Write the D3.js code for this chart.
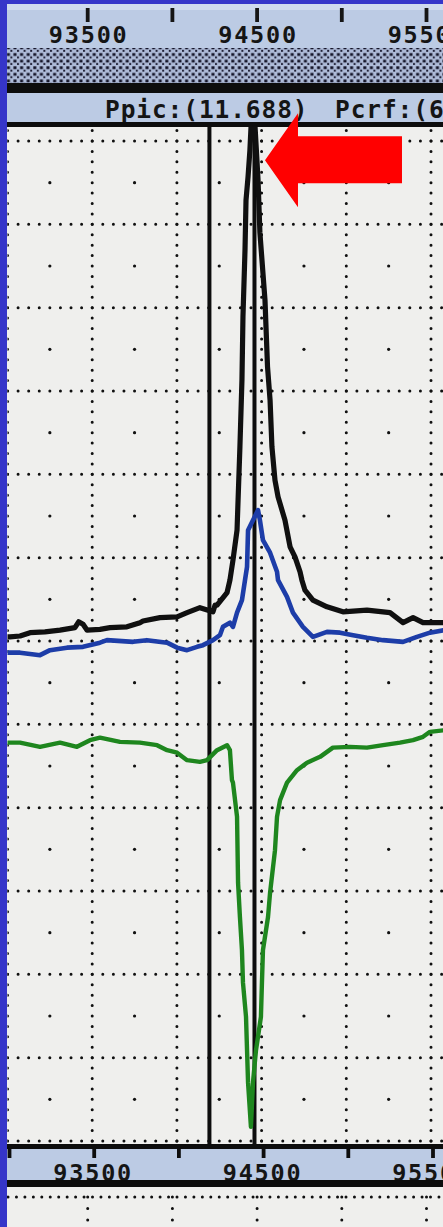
<!DOCTYPE html>
<html><head><meta charset="utf-8">
<script src="https://cdn.jsdelivr.net/npm/d3@7"></script>
<style>
html,body{margin:0;padding:0;background:#3535c9;}
svg{display:block;}
text{font-family:"DejaVu Sans Mono",monospace;font-weight:bold;fill:#151515;}
</style></head><body>
<svg id="chart" width="443" height="1227"></svg>
<script>
// Axis ticks and labels (frequency, Hz)
const gridFreqs  = [93000, 93500, 94000, 94500, 95000, 95500];
const majorTicks = [93500, 94500, 95500];
const minorTicks = [94000, 95000];
const tickLabels = ["93500", "94500", "95500"];
const levelGrid  = [0,1,2,3,4,5,6,7,8,9,10,11,12];
const headerLabels = ["Ppic:(11.688)", "Pcrf:(6"];
const cursorFreqs = [94192, 94458];

// Traces: frequency and level (divisions)
const blackFreq  = [92990, 93015, 93074, 93133, 93221, 93310, 93398, 93420, 93446, 93470, 93546, 93605, 93705, 93782, 93800, 93900, 94001, 94060, 94136, 94213, 94225, 94237, 94296, 94313, 94331, 94355, 94372, 94384, 94390, 94402, 94408, 94420, 94431, 94443, 94455, 94479, 94490, 94520, 94535, 94550, 94561, 94579, 94597, 94638, 94668, 94697, 94727, 94738, 94756, 94803, 94886, 94980, 95122, 95258, 95335, 95394, 95453, 95580];
const blackLevel = [6.05, 6.05, 6.06, 6.10, 6.11, 6.13, 6.16, 6.23, 6.20, 6.13, 6.14, 6.16, 6.17, 6.22, 6.24, 6.28, 6.29, 6.34, 6.40, 6.35, 6.43, 6.43, 6.58, 6.73, 6.97, 7.33, 8.33, 9.13, 9.89, 10.69, 11.29, 11.57, 11.89, 12.40, 12.40, 11.53, 10.90, 10.09, 9.29, 8.89, 8.33, 7.93, 7.73, 7.45, 7.13, 7.01, 6.83, 6.73, 6.61, 6.49, 6.41, 6.35, 6.37, 6.34, 6.22, 6.28, 6.22, 6.22];

const blueFreq  = [92990, 93074, 93192, 93251, 93351, 93446, 93546, 93587, 93741, 93823, 93942, 94001, 94060, 94119, 94154, 94213, 94254, 94272, 94313, 94331, 94355, 94384, 94402, 94414, 94420, 94449, 94479, 94490, 94508, 94550, 94591, 94597, 94650, 94685, 94744, 94803, 94886, 94963, 95040, 95122, 95217, 95335, 95417, 95494, 95580];
const blueLevel = [5.86, 5.86, 5.83, 5.89, 5.92, 5.93, 5.98, 6.01, 5.99, 6.01, 5.98, 5.92, 5.89, 5.93, 5.95, 6.01, 6.07, 6.17, 6.22, 6.17, 6.34, 6.49, 6.73, 6.89, 7.33, 7.45, 7.57, 7.45, 7.21, 7.06, 6.83, 6.73, 6.53, 6.34, 6.17, 6.05, 6.11, 6.10, 6.07, 6.04, 6.01, 5.99, 6.05, 6.10, 6.13];

const greenFreq  = [92990, 93074, 93192, 93310, 93410, 93487, 93546, 93664, 93782, 93883, 93942, 94001, 94060, 94136, 94178, 94237, 94296, 94313, 94325, 94331, 94355, 94361, 94372, 94384, 94390, 94408, 94414, 94420, 94437, 94449, 94467, 94496, 94502, 94508, 94538, 94550, 94579, 94591, 94609, 94650, 94709, 94768, 94845, 94921, 95022, 95122, 95217, 95317, 95394, 95453, 95494, 95580];
const greenLevel = [4.78, 4.78, 4.73, 4.78, 4.73, 4.81, 4.84, 4.79, 4.78, 4.75, 4.69, 4.66, 4.57, 4.55, 4.57, 4.69, 4.75, 4.69, 4.33, 4.30, 3.89, 3.10, 2.69, 2.29, 1.90, 1.49, 1.09, 0.70, 0.17, 0.70, 1.09, 1.49, 1.90, 2.29, 2.69, 2.98, 3.49, 3.89, 4.09, 4.30, 4.45, 4.54, 4.61, 4.72, 4.73, 4.72, 4.75, 4.78, 4.81, 4.85, 4.91, 4.93];

const W = 443, H = 1227;
const svg = d3.select("#chart");

const x = d3.scaleLinear().domain([93000, 95500]).range([7.5, 431]);
const xTop = d3.scaleLinear().domain([93000, 95500]).range([3, 426.5]);
const y = d3.scaleLinear().domain([0, 12]).range([1141, 141]);

const plotTop = 127, plotBottom = 1144;
const panelBlue = "#bccbe4";

// dither pattern for the band under the top scale
const defs = svg.append("defs");
const pat = defs.append("pattern").attr("id", "dither").attr("patternUnits", "userSpaceOnUse")
  .attr("width", 6.6).attr("height", 6.6);
pat.append("rect").attr("width", 6.6).attr("height", 6.6).attr("fill", "#aebbd8");
pat.append("rect").attr("x", 0.3).attr("y", 0.3).attr("width", 3).attr("height", 2.8).attr("fill", "#141428");
pat.append("rect").attr("x", 3.8).attr("y", 3.6).attr("width", 2).attr("height", 2).attr("fill", "#1e1e34");
defs.append("clipPath").attr("id", "plotClip").append("rect")
  .attr("x", 7.5).attr("y", plotTop).attr("width", W - 7.5).attr("height", plotBottom - plotTop);

// ---- top scale panel ----
svg.append("rect").attr("x", 0).attr("y", 0).attr("width", W).attr("height", 48).attr("fill", panelBlue);
svg.append("rect").attr("x", 0).attr("y", 4).attr("width", W).attr("height", 6).attr("fill", "#cfdaee");
const topScale = svg.append("g");
topScale.selectAll("line").data(majorTicks.concat(minorTicks)).join("line")
  .attr("x1", d => xTop(d)).attr("x2", d => xTop(d)).attr("y1", 8).attr("y2", 22)
  .attr("stroke", "#151515").attr("stroke-width", 3.8);
topScale.selectAll("text").data(majorTicks).join("text")
  .attr("x", d => xTop(d) + 1).attr("y", 43).attr("text-anchor", "middle")
  .attr("font-size", 23.5).attr("letter-spacing", 1.8)
  .text((d, i) => tickLabels[i]);

svg.append("rect").attr("x", 0).attr("y", 48).attr("width", W).attr("height", 35).attr("fill", "url(#dither)");
svg.append("rect").attr("x", 0).attr("y", 83).attr("width", W).attr("height", 10).attr("fill", "#0d0d0d");
svg.append("rect").attr("x", 0).attr("y", 93).attr("width", W).attr("height", 29).attr("fill", panelBlue);
svg.append("text").attr("x", 105).attr("y", 118).attr("font-size", 24.5).attr("letter-spacing", 0.9).text(headerLabels[0]);
svg.append("text").attr("x", 335).attr("y", 118).attr("font-size", 24.5).attr("letter-spacing", 0.9).text(headerLabels[1]);
svg.append("rect").attr("x", 0).attr("y", 122).attr("width", W).attr("height", 5).attr("fill", "#0d0d0d");

// ---- plot area ----
svg.append("rect").attr("x", 0).attr("y", plotTop).attr("width", W).attr("height", plotBottom - plotTop).attr("fill", "#efefed");

const grid = svg.append("g").attr("clip-path", "url(#plotClip)");
const dotH = (x(93500) - x(93000)) / 8;
const dotV = (y(0) - y(1)) / 8;
grid.selectAll("line.h").data(levelGrid).join("line").attr("class", "h")
  .attr("x1", x(93000)).attr("x2", W + 20).attr("y1", d => y(d)).attr("y2", d => y(d))
  .attr("stroke", "#101010").attr("stroke-width", 3).attr("stroke-linecap", "round")
  .attr("stroke-dasharray", `0 ${dotH}`);
grid.selectAll("line.v").data(gridFreqs).join("line").attr("class", "v")
  .attr("x1", d => x(d)).attr("x2", d => x(d)).attr("y1", y(0)).attr("y2", y(12) - dotV * 1.2)
  .attr("stroke", "#101010").attr("stroke-width", 3).attr("stroke-linecap", "round")
  .attr("stroke-dasharray", `0 ${dotV}`);
const cellCenters = [];
gridFreqs.forEach(f => levelGrid.slice(0, -1).forEach(v => cellCenters.push([f + 250, v + 0.5])));
grid.selectAll("circle").data(cellCenters).join("circle")
  .attr("cx", d => x(d[0])).attr("cy", d => y(d[1])).attr("r", 1.6).attr("fill", "#101010");

// cursors
svg.selectAll("line.cursor").data(cursorFreqs).join("line").attr("class", "cursor")
  .attr("x1", d => x(d)).attr("x2", d => x(d)).attr("y1", plotTop - 2).attr("y2", plotBottom)
  .attr("stroke", "#0d0d0d").attr("stroke-width", 4);

// traces
const traces = [
  {freq: blackFreq, level: blackLevel, color: "#101010", width: 5.2},
  {freq: blueFreq, level: blueLevel, color: "#1d3da8", width: 4.6},
  {freq: greenFreq, level: greenLevel, color: "#1e861e", width: 4.4}
];
const line = d3.line().x(d => x(d[0])).y(d => y(d[1]));
const tg = svg.append("g").attr("clip-path", "url(#plotClip)");
traces.forEach(t => {
  tg.append("path").datum(t.freq.map((f, i) => [f, t.level[i]]))
    .attr("d", line).attr("fill", "none").attr("stroke", t.color)
    .attr("stroke-width", t.width).attr("stroke-linejoin", "round");
});

// peak marker arrow
const tipX = x(94520), tipY = y(11.77);
svg.append("path")
  .attr("d", `M${tipX},${tipY} L${tipX + 33},${tipY - 47} L${tipX + 33},${tipY - 24} L${tipX + 137},${tipY - 24} L${tipX + 137},${tipY + 23} L${tipX + 33},${tipY + 23} L${tipX + 33},${tipY + 47} Z`)
  .attr("fill", "#ff0000");

// ---- bottom scale panel ----
svg.append("rect").attr("x", 0).attr("y", plotBottom).attr("width", W).attr("height", 5).attr("fill", "#0d0d0d");
svg.append("rect").attr("x", 0).attr("y", 1149).attr("width", W).attr("height", 31).attr("fill", panelBlue);
svg.selectAll("line.bt").data(gridFreqs).join("line").attr("class", "bt")
  .attr("x1", d => x(d) + 2).attr("x2", d => x(d) + 2).attr("y1", 1147).attr("y2", 1158)
  .attr("stroke", "#0d0d0d").attr("stroke-width", 3.8);
svg.selectAll("text.bl").data(majorTicks).join("text").attr("class", "bl")
  .attr("x", d => x(d) + 1).attr("y", 1181).attr("text-anchor", "middle")
  .attr("font-size", 23.5).attr("letter-spacing", 1.8)
  .text((d, i) => tickLabels[i]);
svg.append("rect").attr("x", 0).attr("y", 1180).attr("width", W).attr("height", 7).attr("fill", "#0d0d0d");

// next panel grid below
svg.append("rect").attr("x", 0).attr("y", 1187).attr("width", W).attr("height", H - 1187).attr("fill", "#efefed");
svg.append("line").attr("x1", 8).attr("x2", W).attr("y1", 1197).attr("y2", 1197)
  .attr("stroke", "#101010").attr("stroke-width", 3).attr("stroke-linecap", "round")
  .attr("stroke-dasharray", "0 8.45");
svg.selectAll("line.lv").data(gridFreqs).join("line").attr("class", "lv")
  .attr("x1", d => xTop(d)).attr("x2", d => xTop(d)).attr("y1", 1197).attr("y2", H)
  .attr("stroke", "#101010").attr("stroke-width", 3).attr("stroke-linecap", "round")
  .attr("stroke-dasharray", "0 11.5");

// frame
svg.append("rect").attr("x", 0).attr("y", 0).attr("width", W).attr("height", 4).attr("fill", "#3535c9");
svg.append("rect").attr("x", 0).attr("y", 0).attr("width", 7).attr("height", H).attr("fill", "#3535c9");
</script>
</body></html>
